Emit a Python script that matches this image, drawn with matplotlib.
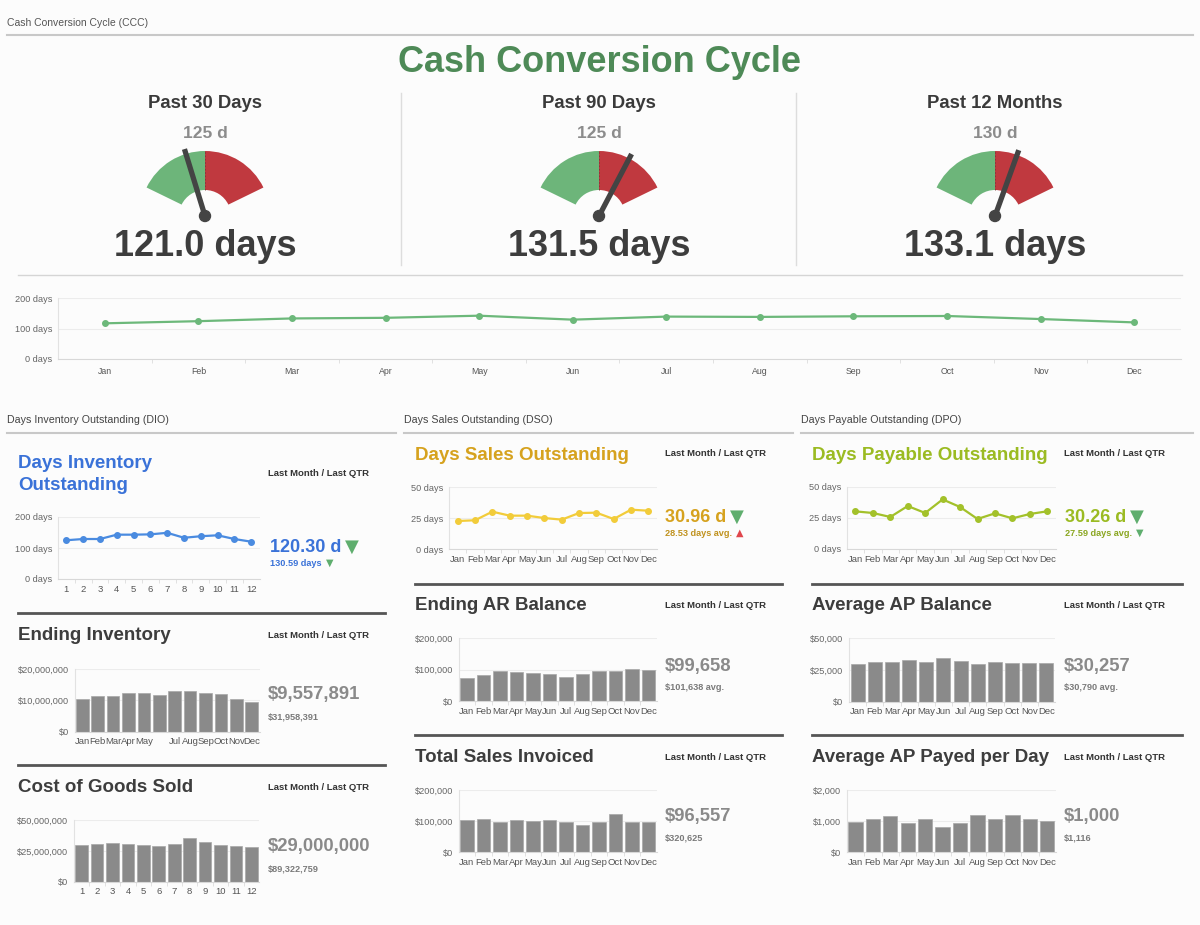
import matplotlib
matplotlib.use('Agg')
import math
import matplotlib.pyplot as plt
from matplotlib.patches import Wedge, Circle
from matplotlib.ticker import FuncFormatter

W, H = 1200, 925

months = ['Jan', 'Feb', 'Mar', 'Apr', 'May', 'Jun', 'Jul', 'Aug', 'Sep', 'Oct', 'Nov', 'Dec']
nums = [str(i) for i in range(1, 13)]
inventory_labels = ['Jan', 'Feb', 'Mar', 'Apr', 'May', '', 'Jul', 'Aug', 'Sep', 'Oct', 'Nov', 'Dec']

# CCC gauges
gauge_titles = ['Past 30 Days', 'Past 90 Days', 'Past 12 Months']
gauge_targets = [125, 125, 130]
gauge_values = [121.0, 131.5, 133.1]
gauge_lo = [110, 110, 120]
gauge_hi = [140, 140, 140]

ccc_monthly = [117, 124, 133, 135, 142, 129, 139, 138, 140, 141, 131, 120]

dio_values = [125, 129, 129, 143, 143, 144, 149, 133, 138, 141, 129, 120.3]
dso_values = [22.7, 23.3, 30.2, 27.0, 27.0, 25.1, 23.8, 29.1, 29.4, 24.3, 31.8, 30.96]
dpo_values = [30.2, 28.9, 25.7, 34.5, 28.9, 39.8, 33.7, 24.1, 28.6, 24.6, 28.1, 30.26]

ending_inventory = [10.4e6, 11.3e6, 11.5e6, 12.4e6, 12.2e6, 11.7e6, 12.9e6, 13.1e6, 12.4e6, 11.9e6, 10.4e6, 9557891]
cogs = [29.7e6, 30.8e6, 31.4e6, 30.8e6, 29.7e6, 28.7e6, 30.8e6, 35.1e6, 32.2e6, 29.7e6, 29.2e6, 28.1e6]
ar_balance = [74.5e3, 81.9e3, 96.8e3, 92.6e3, 90.4e3, 87.2e3, 75.5e3, 87.2e3, 94.7e3, 96.8e3, 101e3, 99658]
sales_invoiced = [102.7e3, 108e3, 98.4e3, 102.7e3, 100.5e3, 103.7e3, 98.4e3, 88.8e3, 98.4e3, 121.9e3, 98.4e3, 96557]
ap_balance = [29.7e3, 31.6e3, 31.1e3, 32.6e3, 31.1e3, 34.5e3, 32.1e3, 29.5e3, 31.1e3, 30.5e3, 30.5e3, 30257]
ap_per_day = [984, 1080, 1166, 930, 1059, 823, 952, 1187, 1080, 1209, 1080, 1000]

plt.rcParams['font.family'] = ['Liberation Sans', 'DejaVu Sans']

BG = '#fcfcfc'
DARK = '#3d3d3d'
GRAYV = '#8a8a8a'
GREEN_G = '#6db57a'
RED_G = '#c0393f'
TRI_GREEN = '#5fae6e'
TRI_RED = '#e0464c'
TITLE_FS = 13.5
LM_FS = 6.8
SUB_FS = 6.6
KPI_FS = 13.3

fig = plt.figure(figsize=(W / 100, H / 100), dpi=100, facecolor=BG)


def ftext(x, y, s, **kw):
    kw.setdefault('va', 'center')
    return fig.text(x / W, 1 - y / H, s, **kw)


def hline(y, x0, x1, color, lw):
    fig.add_artist(plt.Line2D([x0 / W, x1 / W], [1 - y / H, 1 - y / H], color=color, lw=lw))


def vline(x, y0, y1, color, lw):
    fig.add_artist(plt.Line2D([x / W, x / W], [1 - y0 / H, 1 - y1 / H], color=color, lw=lw))


def add_ax(x0, y0, x1, y1):
    return fig.add_axes([x0 / W, 1 - y1 / H, (x1 - x0) / W, (y1 - y0) / H])


def style_ax(ax, ymax, fmt, labels, ylab=6.6, xlab=6.8, minor=True):
    ax.set_facecolor('none')
    for s in ['top', 'right']:
        ax.spines[s].set_visible(False)
    ax.spines['left'].set_color('#e2e2e2')
    ax.spines['bottom'].set_color('#d8d8d8')
    ax.set_ylim(0, ymax)
    ax.set_yticks([0, ymax / 2, ymax])
    ax.yaxis.set_major_formatter(FuncFormatter(fmt))
    ax.grid(axis='y', color='#ececec', lw=0.8)
    ax.set_axisbelow(True)
    ax.tick_params(axis='y', length=0, labelsize=ylab, colors='#666', pad=4)
    ax.set_xlim(-0.5, 11.5)
    ax.set_xticks(range(12))
    ax.set_xticklabels(labels)
    ax.tick_params(axis='x', length=0, labelsize=xlab, colors='#555', pad=4)
    if minor:
        ax.set_xticks([i + 0.5 for i in range(11)], minor=True)
        ax.tick_params(axis='x', which='minor', length=3, color='#dcdcdc')


days_fmt = lambda v, p: '%d days' % v
money_fmt = lambda v, p: '${:,.0f}'.format(v)

# ---------- header ----------
ftext(7, 23, 'Cash Conversion Cycle (CCC)', fontsize=7.5, color='#555')
hline(34.5, 7, 1193, '#c8c8c8', 1.5)
ftext(600, 63, 'Cash Conversion Cycle', fontsize=26, color='#4e8a57', ha='center', fontweight='bold')

gauge_cx = [205, 599, 995]
gauge_cy = 216
for i in range(3):
    cx = gauge_cx[i]
    ftext(cx, 103, gauge_titles[i], fontsize=13.3, fontweight='bold', color='#3a3a3a', ha='center')
    ftext(cx, 133, '%d d' % gauge_targets[i], fontsize=12.5, fontweight='bold', color='#8c8c8c', ha='center')
    ftext(cx, 246, '%.1f days' % gauge_values[i], fontsize=26, fontweight='bold', color=DARK, ha='center')

    gax = add_ax(cx - 75, gauge_cy - 75, cx + 75, gauge_cy + 75)
    gax.set_xlim(-75, 75)
    gax.set_ylim(-75, 75)
    gax.axis('off')
    lo, hi, tgt = gauge_lo[i], gauge_hi[i], gauge_targets[i]
    to_ang = lambda v: 154 - (v - lo) / (hi - lo) * 128
    a_t = to_ang(tgt)
    gax.add_patch(Wedge((0, 0), 65, a_t, 154, width=39, color=GREEN_G, lw=0))
    gax.add_patch(Wedge((0, 0), 65, 26, a_t, width=39, color=RED_G, lw=0))
    r = math.radians(a_t)
    gax.plot([26 * math.cos(r), 65 * math.cos(r)], [26 * math.sin(r), 65 * math.sin(r)],
             color='#7a3a3a', lw=0.6, ls=(0, (2, 2)))
    a_v = math.radians(to_ang(gauge_values[i]))
    gax.plot([0, 70 * math.cos(a_v)], [0, 70 * math.sin(a_v)], color='#444', lw=3.8,
             solid_capstyle='butt')
    gax.add_patch(Circle((0, 0), 5.5, color='#444'))

vline(401, 93, 265, '#dddddd', 1)
vline(796, 93, 265, '#dddddd', 1)
hline(274.5, 18, 1182, '#d5d5d5', 1)

# ---------- monthly CCC ----------
ax = add_ax(58, 298, 1181, 359)
style_ax(ax, 200, days_fmt, months, ylab=6.6, xlab=6.3)
ax.tick_params(axis='x', pad=6)
ax.plot(range(12), ccc_monthly, color='#6cb87a', lw=1.6, marker='o', ms=4)

# ---------- section headers ----------
ftext(7, 420, 'Days Inventory Outstanding (DIO)', fontsize=7.7, color='#444')
ftext(404, 420, 'Days Sales Outstanding (DSO)', fontsize=7.7, color='#444')
ftext(801, 420, 'Days Payable Outstanding (DPO)', fontsize=7.7, color='#444')
hline(432.5, 7, 396, '#c8c8c8', 1.5)
hline(432.5, 404, 793, '#c8c8c8', 1.5)
hline(432.5, 801, 1193, '#c8c8c8', 1.5)

LM = 'Last Month / Last QTR'
tri_items = []


def kpi(x, y, s, color, size=KPI_FS):
    return ftext(x, y, s, fontsize=size, fontweight='bold', color=color)


def lm(x, y):
    ftext(x, y, LM, fontsize=LM_FS, fontweight='bold', color='#333')


def sub(x, y, s, color='#7a7a7a'):
    return ftext(x, y, s, fontsize=SUB_FS, fontweight='bold', color=color)


# ---------- DIO column ----------
BLUE = '#3a72d8'
ftext(18, 463, 'Days Inventory', fontsize=TITLE_FS, fontweight='bold', color=BLUE)
ftext(18, 485, 'Outstanding', fontsize=TITLE_FS, fontweight='bold', color=BLUE)
lm(268, 473)
ax = add_ax(58, 517, 259.6, 579)
style_ax(ax, 200, days_fmt, nums)
ax.plot(range(12), dio_values, color='#4a8be0', lw=1.6, marker='o', ms=4)
t = kpi(270, 547, '%.2f d' % dio_values[-1], BLUE, 13)
tri_items.append((t, '\u25BC', TRI_GREEN, 13, 4))
t = sub(270, 563, '130.59 days', BLUE)
tri_items.append((t, '\u25BC', TRI_GREEN, 7, 4))

hline(613, 18, 385, '#555', 2)
ftext(18, 636, 'Ending Inventory', fontsize=TITLE_FS, fontweight='bold', color=DARK)
lm(268, 636)
ax = add_ax(74.5, 669, 259.5, 731.7)
style_ax(ax, 20e6, money_fmt, inventory_labels, minor=False)
ax.bar(range(12), ending_inventory, width=0.82, color='#8a8a8a', edgecolor='#a8a8a8', lw=0.5)
kpi(268, 695, '${:,.0f}'.format(ending_inventory[-1]), GRAYV)
sub(268, 717, '$31,958,391')

hline(765, 18, 385, '#555', 2)
ftext(18, 787, 'Cost of Goods Sold', fontsize=TITLE_FS, fontweight='bold', color=DARK)
lm(268, 787)
ax = add_ax(74, 820, 259, 881.7)
style_ax(ax, 50e6, money_fmt, nums)
ax.bar(range(12), cogs, width=0.82, color='#8a8a8a', edgecolor='#a8a8a8', lw=0.5)
kpi(268, 847, '$29,000,000', GRAYV)
sub(268, 869, '$89,322,759')

# ---------- DSO column ----------
GOLD = '#d6a21e'
ftext(415, 455, 'Days Sales Outstanding', fontsize=TITLE_FS, fontweight='bold', color=GOLD)
lm(665, 454)
ax = add_ax(449, 487, 657, 549.3)
style_ax(ax, 50, days_fmt, months)
ax.plot(range(12), dso_values, color='#f2cc3a', lw=1.6, marker='o', ms=4)
t = kpi(665, 517, '%.2f d' % dso_values[-1], GOLD, 13)
tri_items.append((t, '\u25BC', TRI_GREEN, 13, 4))
t = sub(665, 533, '28.53 days avg.', '#c0921e')
tri_items.append((t, '\u25B2', TRI_RED, 7, 4))

hline(584, 415, 782, '#555', 2)
ftext(415, 606, 'Ending AR Balance', fontsize=TITLE_FS, fontweight='bold', color=DARK)
lm(665, 606)
ax = add_ax(458.7, 638.3, 656.7, 701)
style_ax(ax, 200e3, money_fmt, months)
ax.bar(range(12), ar_balance, width=0.82, color='#8a8a8a', edgecolor='#a8a8a8', lw=0.5)
kpi(665, 667, '${:,.0f}'.format(ar_balance[-1]), GRAYV)
sub(665, 688, '$101,638 avg.')

hline(735, 415, 782, '#555', 2)
ftext(415, 757, 'Total Sales Invoiced', fontsize=TITLE_FS, fontweight='bold', color=DARK)
lm(665, 757)
ax = add_ax(458.7, 790, 656.7, 852.3)
style_ax(ax, 200e3, money_fmt, months)
ax.bar(range(12), sales_invoiced, width=0.82, color='#8a8a8a', edgecolor='#a8a8a8', lw=0.5)
kpi(665, 817, '${:,.0f}'.format(sales_invoiced[-1]), GRAYV)
sub(665, 838, '$320,625')

# ---------- DPO column ----------
LIME = '#9bbb22'
ftext(812, 455, 'Days Payable Outstanding', fontsize=TITLE_FS, fontweight='bold', color=LIME)
lm(1064, 454)
ax = add_ax(846.7, 486.7, 1056, 549)
style_ax(ax, 50, days_fmt, months)
ax.plot(range(12), dpo_values, color='#a3c12a', lw=1.6, marker='o', ms=4)
t = kpi(1065, 517, '%.2f d' % dpo_values[-1], LIME, 13)
tri_items.append((t, '\u25BC', TRI_GREEN, 13, 4))
t = sub(1065, 533, '27.59 days avg.', '#8aa620')
tri_items.append((t, '\u25BC', TRI_GREEN, 7, 4))

hline(584, 812, 1182, '#555', 2)
ftext(812, 606, 'Average AP Balance', fontsize=TITLE_FS, fontweight='bold', color=DARK)
lm(1064, 606)
ax = add_ax(849, 638.3, 1055, 701.7)
style_ax(ax, 50e3, money_fmt, months)
ax.bar(range(12), ap_balance, width=0.82, color='#8a8a8a', edgecolor='#a8a8a8', lw=0.5)
kpi(1064, 667, '${:,.0f}'.format(ap_balance[-1]), GRAYV)
sub(1064, 688, '$30,790 avg.')

hline(735, 812, 1182, '#555', 2)
ftext(812, 757, 'Average AP Payed per Day', fontsize=TITLE_FS, fontweight='bold', color=DARK)
lm(1064, 757)
ax = add_ax(846.7, 790, 1056, 852.3)
style_ax(ax, 2000, money_fmt, months)
ax.bar(range(12), ap_per_day, width=0.82, color='#8a8a8a', edgecolor='#a8a8a8', lw=0.5)
kpi(1064, 817, '${:,.0f}'.format(ap_per_day[-1]), GRAYV)
sub(1064, 838, '$1,116')

# trend triangles placed right after their texts
fig.canvas.draw()
renderer = fig.canvas.get_renderer()
for t, glyph, col, size, gap in tri_items:
    bb = t.get_window_extent(renderer)
    yc = (bb.y0 + bb.y1) / 2
    fig.text((bb.x1 + gap) / W, yc / H, glyph, fontsize=size, color=col, va='center',
             family='DejaVu Sans')

fig.savefig('out.png', dpi=100, facecolor=BG)
